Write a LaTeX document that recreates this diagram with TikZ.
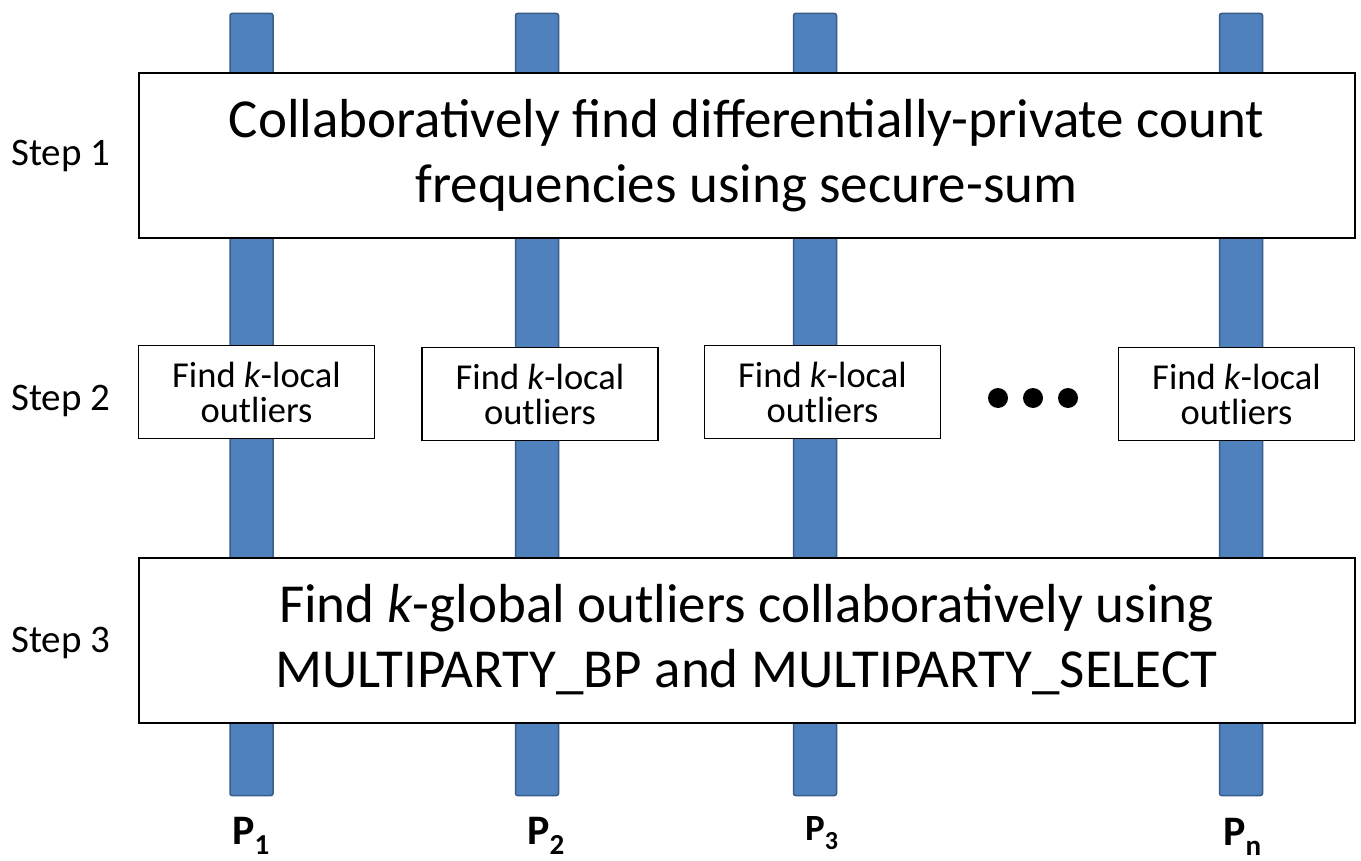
\documentclass[tikz,border=0pt]{standalone}
\usepackage{fontspec}
\setmainfont{Carlito}
\definecolor{barblue}{RGB}{79,129,189}
\definecolor{bardark}{RGB}{56,93,138}
\begin{document}
\begin{tikzpicture}[x=1pt,y=-1pt,
  bar/.style={fill=barblue, draw=bardark, line width=1.5pt, rounded corners=2pt,
    minimum width=43pt, minimum height=782pt, inner sep=0pt},
  bigbox/.style={draw=black, fill=white, line width=2pt, minimum width=1216pt,
    minimum height=165pt, inner sep=0pt, align=center,
    font=\fontsize{55}{65}\selectfont},
  smallbox/.style={draw=black, fill=white, line width=1.8pt, minimum width=236pt,
    minimum height=93pt, inner sep=0pt, align=center,
    font=\fontsize{36.5}{35}\selectfont},
  steplabel/.style={anchor=base west, inner sep=0pt, font=\fontsize{39}{39}\selectfont},
  plabel/.style={anchor=base west, inner sep=0pt, font=\fontsize{42}{42}\selectfont\bfseries},
  dotnode/.style={circle, fill=black, inner sep=0pt, minimum size=20pt}]
\useasboundingbox (0,0) rectangle (1361,861);
\fill[white] (0,0) rectangle (1361,861);
% party bars
\node[bar] (b1) at (251.5,404.5) {};
\node[bar] (b2) at (537,404.5) {};
\node[bar] (b3) at (815,404.5) {};
\node[bar] (bn) at (1241,404.5) {};
% step 1
\node[bigbox] (s1) at (746.5,156) {Collaboratively find differentially-private count\\frequencies using secure-sum};
% step 2
\node[smallbox] (l1) at (256.5,392) {Find \textit{k}-local\\outliers};
\node[smallbox] (l2) at (540,394) {Find \textit{k}-local\\outliers};
\node[smallbox] (l3) at (822.5,392) {Find \textit{k}-local\\outliers};
\node[smallbox] (ln) at (1236.5,394) {Find \textit{k}-local\\outliers};
\node[dotnode] (d1) at (998,398) {};
\node[dotnode] (d2) at (1033,398) {};
\node[dotnode] (d3) at (1068,398) {};
% step 3
\node[bigbox] (s3) at (746.5,640) {Find \textit{k}-global outliers collaboratively using\\MULTIPARTY\_BP and MULTIPARTY\_SELECT};
% step labels
\node[steplabel] (t1) at (11,166) {Step 1};
\node[steplabel] (t2) at (11,410) {Step 2};
\node[steplabel] (t3) at (11,652) {Step 3};
% party labels
\node[plabel] (p1) at (232,844) {P\raisebox{-10pt}{\fontsize{29}{29}\selectfont\bfseries 1}};
\node[plabel] (p2) at (527,844) {P\raisebox{-10pt}{\fontsize{29}{29}\selectfont\bfseries 2}};
\node[plabel, font=\fontsize{37}{37}\selectfont\bfseries] (p3) at (805,840) {P\raisebox{-9pt}{\fontsize{26}{26}\selectfont\bfseries 3}};
\node[plabel] (pn) at (1223,845) {P\raisebox{-10pt}{\fontsize{29}{29}\selectfont\bfseries n}};
\end{tikzpicture}
\end{document}
